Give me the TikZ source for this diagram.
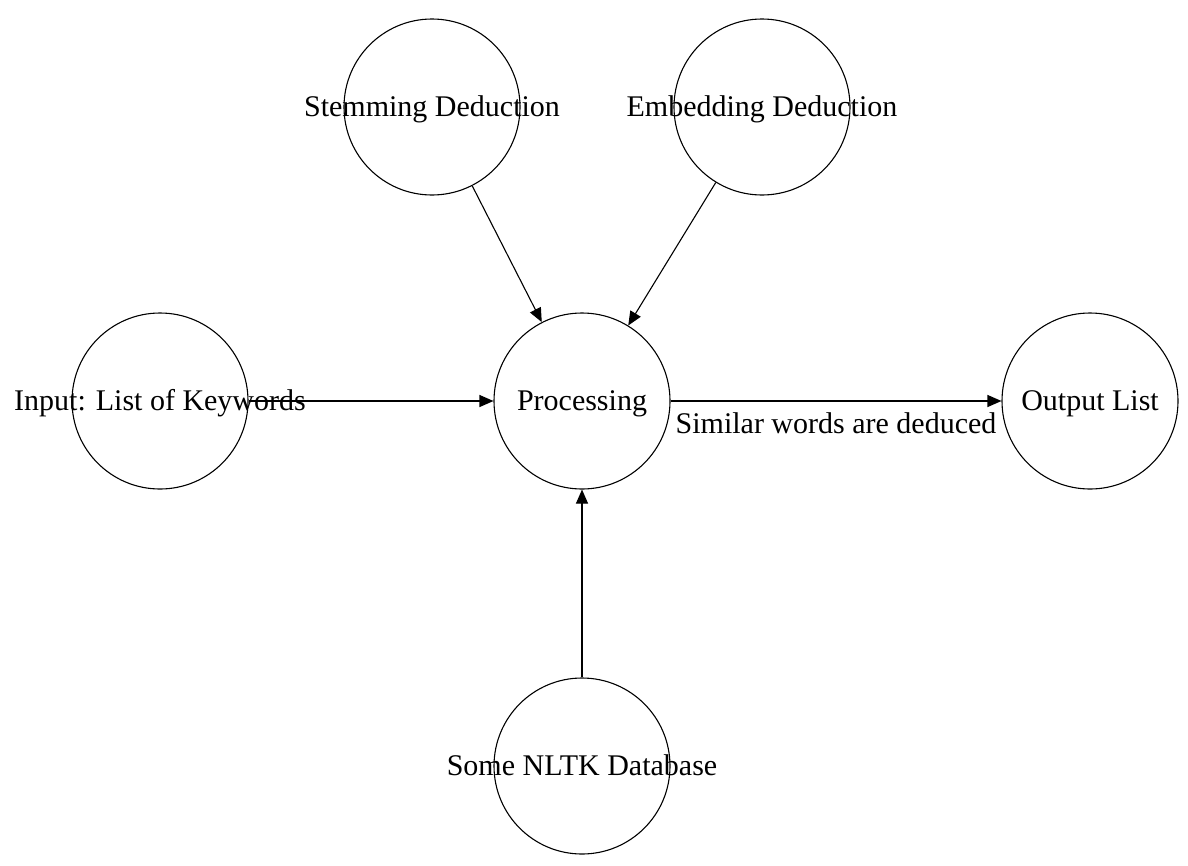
\documentclass[tikz,border=0pt]{standalone}
\usepackage{fontspec}
\setmainfont{Liberation Serif}
\usetikzlibrary{arrows.meta}
\newcommand{\ctext}[1]{\makebox[0pt][c]{#1}}
\begin{document}
\begin{tikzpicture}[x=1pt,y=-1pt,
  bubble/.style={draw, circle, minimum size=176pt, inner sep=0pt, line width=1.1pt,
    font=\fontsize{30}{36}\selectfont, text height=18pt, text depth=0pt},
  conn/.style={draw, line width=1.1pt, -{Triangle[length=14pt,width=12pt]}},
  lbl/.style={font=\fontsize{30}{36}\selectfont, inner sep=0pt, text height=20pt, text depth=0pt}
]
\useasboundingbox (0,0) rectangle (1188,865);
\node[bubble] (stem) at (432,107) {\ctext{Stemming Deduction}};
\node[bubble] (emb) at (762,107) {\ctext{Embedding Deduction}};
\node[bubble] (in) at (160,401) {\ctext{Input: List of Keywords}};
\node[bubble] (proc) at (582,401) {\ctext{Processing}};
\node[bubble] (out) at (1090,401) {\ctext{Output List}};
\node[bubble] (db) at (582,766) {\ctext{Some NLTK Database}};
\draw[conn] (stem) -- (proc);
\draw[conn] (emb) -- (proc);
\draw[conn] (in) -- (proc);
\draw[conn] (db) -- (proc);
\draw[conn] (proc) -- node[lbl, midway, anchor=north, yshift=-12pt] {Similar words are deduced} (out);
\end{tikzpicture}
\end{document}
